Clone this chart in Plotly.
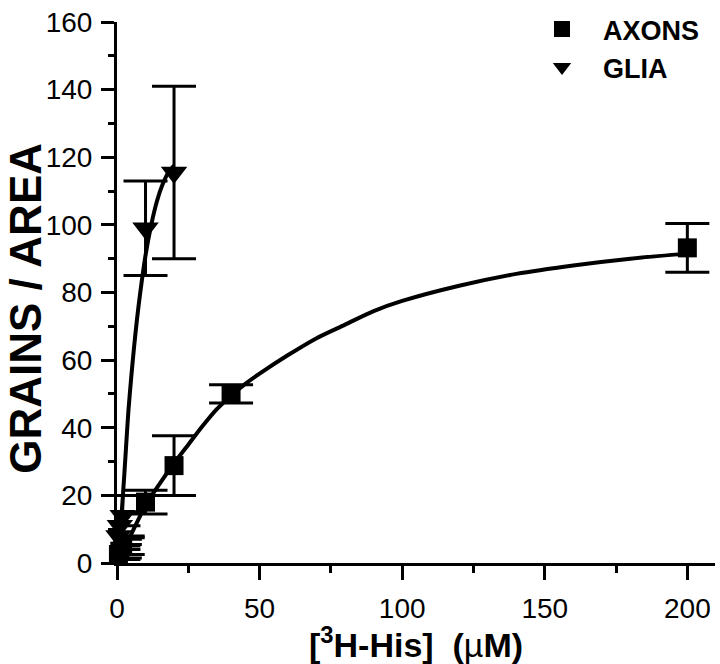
import plotly.graph_objects as go

# ---- data ----
axons_x = [0.5, 1, 2, 10, 20, 40, 200]
axons_y = [2.5, 3.5, 5, 18, 28.8, 50, 93.2]
axons_err = [1.5, 2, 2.5, 3.5, 8.8, 2.7, 7.2]

glia_x = [0.5, 1, 2, 10, 20]
glia_y = [8, 11, 14, 99, 115.5]
glia_err = [3, 4, 6, 14, 25.5]

axons_curve_x = [0, 5, 10, 15, 20, 25, 30, 35, 40, 45, 50, 60, 70, 80, 90, 100, 120, 140, 160, 180, 200]
axons_curve_y = [0, 8.5, 17, 23.5, 29.5, 35, 40.5, 45.5, 49.5, 53, 56, 61.5, 66.5, 70.5, 74.5, 77.5, 82, 85.5, 88, 90, 91.5]

glia_curve_x = [0, 1, 2, 3, 4, 5, 6, 7, 8, 10, 12, 14, 16, 18, 20]
glia_curve_y = [0, 8, 19, 32, 45, 55, 64, 72, 79, 91, 100, 107, 112, 115.5, 117.5]

x_ticks = [0, 50, 100, 150, 200]
x_minor = [25, 75, 125, 175]
y_ticks = [0, 20, 40, 60, 80, 100, 120, 140, 160]

FONT = "Liberation Sans, Arial, sans-serif"

fig = go.Figure()

fig.add_trace(go.Scatter(x=axons_curve_x, y=axons_curve_y, mode="lines",
                         line=dict(color="black", width=4, shape="spline", smoothing=0.8),
                         showlegend=False, cliponaxis=False, hoverinfo="skip"))
fig.add_trace(go.Scatter(x=glia_curve_x, y=glia_curve_y, mode="lines",
                         line=dict(color="black", width=4, shape="spline", smoothing=0.8),
                         showlegend=False, cliponaxis=False, hoverinfo="skip"))

fig.add_trace(go.Scatter(x=axons_x, y=axons_y, mode="markers", name="AXONS",
                         marker=dict(symbol="square", size=19, color="black"),
                         error_y=dict(type="data", array=axons_err, visible=True,
                                      color="black", thickness=3, width=22),
                         cliponaxis=False))
fig.add_trace(go.Scatter(x=glia_x, y=glia_y, mode="markers", name="GLIA",
                         marker=dict(symbol="triangle-down", size=23, color="black"),
                         error_y=dict(type="data", array=glia_err, visible=True,
                                      color="black", thickness=3, width=22),
                         cliponaxis=False))

fig.update_layout(
    width=720, height=664,
    margin=dict(l=117, r=5, t=15, b=101),
    plot_bgcolor="white", paper_bgcolor="white",
    font=dict(family=FONT, color="black"),
    showlegend=True,
    legend=dict(x=0.6756, y=1.0315, xanchor="left", yanchor="top",
                bgcolor="rgba(0,0,0,0)", borderwidth=0, itemwidth=72,
                font=dict(family=FONT, size=27, color="black", weight="bold")),
    xaxis=dict(range=[0, 209.7], tickvals=x_ticks, ticktext=[str(v) for v in x_ticks],
               ticks="outside", ticklen=14, tickwidth=3, tickcolor="black",
               showline=True, linewidth=3, linecolor="black",
               showgrid=False, zeroline=False,
               tickfont=dict(family=FONT, size=28, color="black"),
               ticklabelstandoff=4, ticklabeloverflow="allow",
               minor=dict(tickvals=x_minor, ticks="outside", ticklen=7, tickwidth=3, tickcolor="black"),
               title=dict(text="<b>[<sup>3</sup>H-His]\u00a0\u00a0(</b>\u00b5<b>M)</b>",
                          font=dict(family=FONT, size=34, color="black"), standoff=8)),
    yaxis=dict(range=[0, 160], tickvals=y_ticks, ticktext=[str(v) for v in y_ticks],
               ticks="outside", ticklen=13, tickwidth=3, tickcolor="black",
               showline=True, linewidth=3, linecolor="black",
               showgrid=False, zeroline=False,
               tickfont=dict(family=FONT, size=28, color="black"),
               ticklabelstandoff=3, ticklabeloverflow="allow",
               minor=dict(dtick=10, ticks="outside", ticklen=6, tickwidth=3, tickcolor="black")),
    annotations=[dict(text="<b>GRAINS / AREA</b>", textangle=-90,
                      xref="paper", yref="paper", x=-0.152, y=0.47,
                      xanchor="center", yanchor="middle", showarrow=False,
                      font=dict(family=FONT, size=44, color="black"))],
)

fig.write_html("out.html", config={"displayModeBar": False},
               post_script="document.body.style.margin='0';")
